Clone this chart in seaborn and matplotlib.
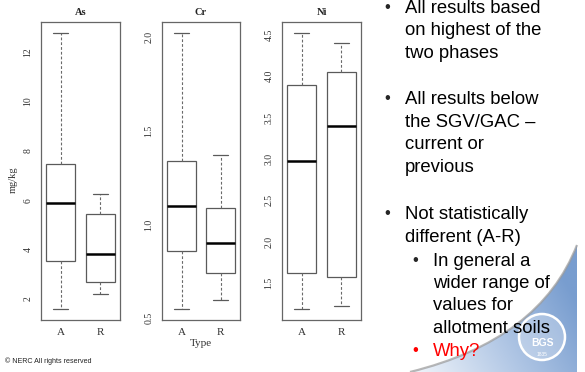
import numpy as np
import pandas as pd
import matplotlib
matplotlib.use("Agg")
import matplotlib.pyplot as plt
import seaborn as sns
from matplotlib.path import Path
from matplotlib.patches import PathPatch, Circle
from matplotlib.colors import LinearSegmentedColormap

# five-number summaries (min, Q1, median, Q3, max)
types = ["A", "R"]
as_A = [1.60, 3.55, 5.90, 7.45, 12.77]
as_R = [2.20, 2.70, 3.83, 5.45, 6.27]
cr_A = [0.55, 0.86, 1.10, 1.34, 2.02]
cr_R = [0.60, 0.74, 0.90, 1.09, 1.37]
ni_A = [1.19, 1.63, 2.98, 3.89, 4.52]
ni_R = [1.22, 1.57, 3.40, 4.05, 4.40]

elements = ["As", "Cr", "Ni"]
yticks = {"As": [2, 4, 6, 8, 10, 12],
          "Cr": [0.5, 1.0, 1.5, 2.0],
          "Ni": [1.5, 2.0, 2.5, 3.0, 3.5, 4.0, 4.5]}
ytick_labels = {"As": ["2", "4", "6", "8", "10", "12"],
                "Cr": ["0.5", "1.0", "1.5", "2.0"],
                "Ni": ["1.5", "2.0", "2.5", "3.0", "3.5", "4.0", "4.5"]}

# (indent level, text, baseline in pixels from top)
bullets = [
    (0, "All results based", 13),
    (1, "on highest of the", 35), (1, "two phases", 58),
    (0, "All results below", 104), (1, "the SGV/GAC \u2013", 127),
    (1, "current or", 149), (1, "previous", 172),
    (0, "Not statistically", 219), (1, "different (A-R)", 242),
    (2, "In general a", 266), (3, "wider range of", 288),
    (3, "values for", 310), (3, "allotment soils", 333),
]

raw = {"As": (as_A, as_R), "Cr": (cr_A, cr_R), "Ni": (ni_A, ni_R)}
rows = []
for el in elements:
    for t, vals in zip(types, raw[el]):
        for v in vals:
            rows.append({"Element": el, "Type": t, "value": v})
df = pd.DataFrame(rows)

sns.set_style("white")
plt.rcParams["font.family"] = ["Liberation Serif", "DejaVu Serif"]

W, H = 585, 372
fig = plt.figure(figsize=(W / 100, H / 100), dpi=100)

def fx(x):
    return x / W

def fy(y):
    return 1 - y / H

# background decoration (blue swoosh, logo)
bg = fig.add_axes([0, 0, 1, 1], zorder=-5)
bg.set_xlim(0, W)
bg.set_ylim(H, 0)
bg.axis("off")
verts = [(577, 245), (540, 340), (410, 372), (577, 372), (577, 245)]
codes = [Path.MOVETO, Path.CURVE3, Path.CURVE3, Path.LINETO, Path.CLOSEPOLY]
clip = PathPatch(Path(verts, codes), facecolor="none", edgecolor="none")
bg.add_patch(clip)
gx, gy = np.meshgrid(np.linspace(0, 1, 200), np.linspace(0, 1, 200))
grad = np.clip(0.8 * gx + 0.35 * (1 - gy), 0, 1)
cmap = LinearSegmentedColormap.from_list("sw", ["#f2f6fb", "#b4c9e6", "#789dcf"])
im = bg.imshow(grad, extent=(410, 577, 372, 245), cmap=cmap, aspect="auto",
               origin="upper", zorder=0)
im.set_clip_path(clip)
edge = Path(verts[:3], codes[:3])
bg.add_patch(PathPatch(edge, facecolor="none", edgecolor="#9a9a9a", lw=1.6,
                       alpha=0.7, zorder=1))
bg.add_patch(Circle((542, 337), 23, facecolor="#ffffff", alpha=0.25,
                    edgecolor="none", zorder=2))
bg.add_patch(Circle((542, 337), 23, facecolor="none", edgecolor="white",
                    lw=1.8, zorder=2))
bg.text(542, 343, "BGS", color="white", fontsize=7.5, fontweight="bold",
        ha="center", va="center", family=["Liberation Sans"], zorder=3)
bg.text(542, 354, "1835", color="white", fontsize=3.5, ha="center",
        va="center", family=["Liberation Sans"], zorder=3)

panels = {"As": (41, 120), "Cr": (162, 240), "Ni": (282, 361)}
top, bottom = 22, 320

for el in elements:
    x0, x1 = panels[el]
    ax = fig.add_axes([fx(x0), fy(bottom), (x1 - x0) / W, (bottom - top) / H])
    sub = df[df["Element"] == el]
    sns.boxplot(data=sub, x="Type", y="value", order=types, ax=ax,
                color="white", linecolor="#5a5a5a", linewidth=0.9,
                width=0.74, whis=(0, 100), showfliers=False,
                medianprops={"color": "black", "linewidth": 1.8},
                whiskerprops={"linestyle": (0, (2.5, 1.8)), "color": "#6a6a6a",
                              "linewidth": 0.8},
                capprops={"color": "#5a5a5a", "linewidth": 0.9},
                boxprops={"facecolor": "white"})
    lo, hi = sub["value"].min(), sub["value"].max()
    pad = (hi - lo) * 0.04
    ax.set_ylim(lo - pad, hi + pad)
    ax.set_xlim(-0.5, 1.5)
    ax.set_yticks(yticks[el])
    ax.set_yticklabels(ytick_labels[el], rotation=90, va="center")
    ax.set_xlabel("")
    ax.set_ylabel("")
    ax.tick_params(axis="both", direction="out", length=4, width=0.7,
                   color="#555555", labelcolor="#333333", pad=2)
    ax.tick_params(axis="y", labelsize=7)
    ax.tick_params(axis="x", labelsize=8)
    for s in ax.spines.values():
        s.set_color("#666666")
        s.set_linewidth(0.9)
    ax.set_title(el, fontsize=7.5, fontweight="bold", pad=5, color="#222222")

fig.text(fx(13), fy(180), "mg/kg", rotation=90, ha="center", va="center",
         fontsize=7.5, color="#333333")
fig.text(fx(201), fy(343), "Type", ha="center", va="center", fontsize=8,
         color="#333333")

sans = ["Liberation Sans", "DejaVu Sans"]
for level, txt, base in bullets:
    if level in (0, 2):
        bx = 384 if level == 0 else 412
        fig.text(fx(bx), fy(base - 1), "\u2022", fontsize=12, family=sans,
                 va="baseline", ha="left")
    tx = 405 if level < 2 else 433
    fig.text(fx(tx), fy(base), txt, fontsize=13.3, family=sans,
             va="baseline", ha="left", color="black")
fig.text(fx(412), fy(355), "\u2022", fontsize=12, family=sans, va="baseline",
         color="red")
fig.text(fx(433), fy(356), "Why?", fontsize=13.3, family=sans, va="baseline",
         color="red")

fig.text(fx(5), fy(361), "\u00a9 NERC All rights reserved", fontsize=5.1,
         family=sans, va="center", color="#222222")

fig.savefig("out.png", dpi=100)
